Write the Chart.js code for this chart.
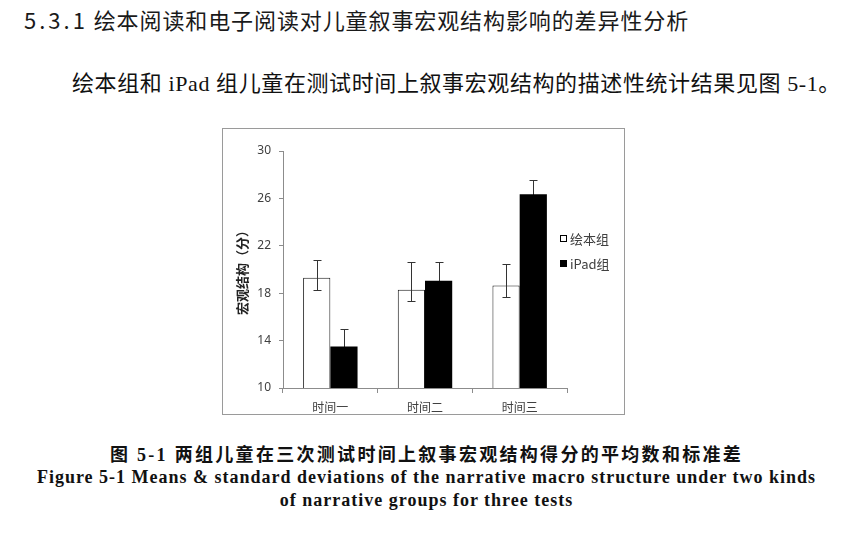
<!DOCTYPE html>
<html lang="zh-CN">
<head>
<meta charset="UTF-8">
<title>图 5-1</title>
<script src="https://cdn.jsdelivr.net/npm/chart.js"></script>
<style>
  body { margin: 0; background: #fff; width: 853px; height: 536px; position: relative; overflow: hidden; }
  .txt { position: absolute; white-space: nowrap; }
  #heading { left: 24px; top: 8px; font: 22px/22px "Noto Sans CJK SC", "Noto Sans", sans-serif; color: #1a1a1a; letter-spacing: 0.9px; }
  #heading .num { letter-spacing: 3px; }
  #para { left: 72px; top: 73px; font: 22px/22px "Liberation Serif", "Noto Sans CJK SC", serif; color: #111; letter-spacing: 0.6px; }
  #cap1 { left: 0; width: 853px; text-align: center; top: 446px; font: bold 18px/18px "Liberation Serif", "Noto Sans CJK SC", serif; letter-spacing: 2.3px; color: #111; }
  #cap2, #cap3 { left: 0; width: 853px; text-align: center; font: bold 18px/18px "Liberation Serif", serif; color: #111; letter-spacing: 1px; }
  #cap2 { top: 468px; }
  #cap3 { top: 491px; }
  #box { position: absolute; left: 222px; top: 128px; width: 401px; height: 285px; border: 1px solid #9a9a9a; }
</style>
</head>
<body>
<div id="heading" class="txt"><span class="num">5.3.1</span> 绘本阅读和电子阅读对儿童叙事宏观结构影响的差异性分析</div>
<div id="para" class="txt">绘本组和 iPad 组儿童在测试时间上叙事宏观结构的描述性统计结果见图 5-1。</div>
<div id="box"><canvas id="barChart" width="401" height="285"></canvas></div>
<div id="cap1" class="txt">图 5-1 两组儿童在三次测试时间上叙事宏观结构得分的平均数和标准差</div>
<div id="cap2" class="txt">Figure 5-1 Means &amp; standard deviations of the narrative macro structure under two kinds</div>
<div id="cap3" class="txt">of narrative groups for three tests</div>

<script>
// 数据
const categories = ['时间一', '时间二', '时间三'];
const seriesNames = ['绘本组', 'iPad组'];
const picturebookMeans = [19.3, 18.3, 18.65];
const ipadMeans = [13.5, 19.05, 26.35];
// 误差线 (上/下)
const picturebookErrUp = [1.5, 2.35, 1.8];
const picturebookErrDown = [1.0, 1.0, 1.0];
const ipadErrUp = [1.45, 1.6, 1.2];
const ipadErrDown = [1.45, 1.6, 1.2];
const yTicks = [10, 14, 18, 22, 26, 30];

const axisColor = '#8c8c8c';
const labelColor = '#404040';

function drawErrors(chart, behind) {
  const ctx = chart.ctx;
  const y = chart.scales.y;
  chart.data.datasets.forEach((ds, i) => {
    if (!!ds.errBehind !== behind) return;
    const meta = chart.getDatasetMeta(i);
    meta.data.forEach((bar, j) => {
      const v = ds.data[j];
      const top = Math.round(y.getPixelForValue(v + ds.errUp[j])) + 0.5;
      const bot = Math.round(y.getPixelForValue(v - ds.errDown[j])) + 0.5;
      const x = Math.round(bar.x) + 0.5;
      ctx.save();
      ctx.strokeStyle = '#333';
      ctx.lineWidth = 1;
      ctx.beginPath();
      ctx.moveTo(x, top); ctx.lineTo(x, bot);
      ctx.moveTo(x - 4, top); ctx.lineTo(x + 4, top);
      ctx.moveTo(x - 4, bot); ctx.lineTo(x + 4, bot);
      ctx.stroke();
      ctx.restore();
    });
  });
}

// 误差线插件 (黑色柱的误差线画在柱子后面，下半段被遮住)
const errorBars = {
  id: 'errorBars',
  beforeDatasetsDraw(chart) { drawErrors(chart, true); },
  afterDatasetsDraw(chart) { drawErrors(chart, false); }
};

// 图例插件 (靠近绘图区右侧)
const sideLegend = {
  id: 'sideLegend',
  afterDraw(chart) {
    const ctx = chart.ctx;
    const area = chart.chartArea;
    const x0 = area.right - 7;
    const y0 = area.top + 87;
    ctx.save();
    ctx.font = '13px "Noto Sans CJK SC", "Noto Sans", sans-serif';
    ctx.textBaseline = 'middle';
    chart.data.datasets.forEach((ds, i) => {
      const yy = y0 + i * 25;
      ctx.fillStyle = ds.backgroundColor;
      ctx.fillRect(x0, yy - 3, 7, 7);
      ctx.strokeStyle = '#000';
      ctx.lineWidth = 1;
      ctx.strokeRect(x0 + 0.5, yy - 2.5, 6, 6);
      ctx.fillStyle = labelColor;
      ctx.fillText(ds.label, x0 + 10, yy + 1);
    });
    ctx.restore();
  }
};

const ctx = document.getElementById('barChart').getContext('2d');
new Chart(ctx, {
  type: 'bar',
  data: {
    labels: categories,
    datasets: [
      {
        label: seriesNames[0],
        data: picturebookMeans,
        errUp: picturebookErrUp,
        errDown: picturebookErrDown,
        backgroundColor: '#ffffff',
        borderColor: '#1a1a1a',
        borderWidth: 1,
        borderSkipped: 'bottom'
      },
      {
        label: seriesNames[1],
        data: ipadMeans,
        errUp: ipadErrUp,
        errDown: ipadErrDown,
        errBehind: true,
        backgroundColor: '#000000',
        borderColor: '#000000',
        borderWidth: 0
      }
    ]
  },
  options: {
    responsive: false,
    animation: false,
    layout: { padding: { left: 8, right: 57, top: 22, bottom: 0 } },
    datasets: { bar: { barPercentage: 1.0, categoryPercentage: 0.575 } },
    plugins: { legend: { display: false }, tooltip: { enabled: false } },
    scales: {
      x: {
        grid: { offset: true, drawOnChartArea: false, drawTicks: true, tickLength: 5, color: axisColor },
        border: { color: axisColor },
        ticks: { color: labelColor, padding: 7, font: { family: '"Noto Sans CJK SC", sans-serif', size: 12 } },
        afterFit(scale) { scale.height = 26; }
      },
      y: {
        min: 10,
        max: 30,
        afterBuildTicks(scale) { scale.ticks = yTicks.map(v => ({ value: v })); },
        grid: { drawOnChartArea: false, drawTicks: true, tickLength: 4, color: axisColor },
        border: { color: axisColor },
        ticks: { color: labelColor, padding: 8, font: { family: '"Noto Sans", sans-serif', size: 12 } },
        title: {
          display: true,
          text: '宏观结构（分）',
          color: '#222',
          padding: { top: 3, bottom: 0 },
          font: { family: '"Noto Sans CJK SC", serif', size: 13, weight: 'bold' }
        },
        afterFit(scale) { scale.width = 52; }
      }
    }
  },
  plugins: [errorBars, sideLegend]
});
</script>
</body>
</html>
